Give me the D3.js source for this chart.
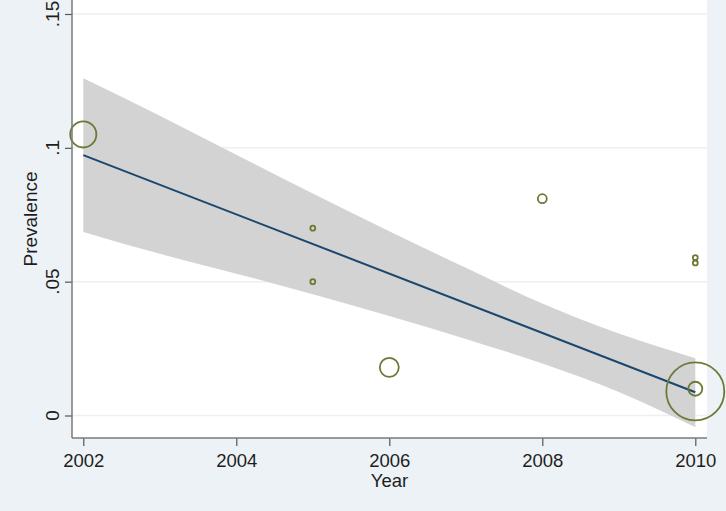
<!DOCTYPE html>
<html>
<head>
<meta charset="utf-8">
<script src="https://cdn.jsdelivr.net/npm/d3@7"></script>
<style>
  html, body { margin: 0; padding: 0; background: #edf2f6; }
  svg { display: block; }
  text { font-family: Arial, "Liberation Sans", sans-serif; fill: #1e1e1e; }
</style>
</head>
<body>
<svg id="chart" width="726" height="511"></svg>
<script>
// ---- data ----
const studyYears  = [2002, 2005, 2005, 2006, 2008, 2010, 2010, 2010, 2010];
const prevalence  = [0.105, 0.070, 0.050, 0.018, 0.081, 0.059, 0.057, 0.010, 0.009];
const weights     = [170, 6, 6, 90, 20, 6, 6, 49, 840];

const fitYears    = [2002, 2010];
const fitValues   = [0.0973, 0.0087];

const bandYears   = [2002, 2003, 2004, 2005, 2006, 2007, 2008, 2009, 2010];
const bandUpper   = [0.126, 0.112, 0.0974, 0.0829, 0.0688, 0.0552, 0.0418, 0.0306, 0.0214];
const bandLower   = [0.0686, 0.0604, 0.0530, 0.0453, 0.0372, 0.0286, 0.0194, 0.0088, -0.0044];

const xTicks      = [2002, 2004, 2006, 2008, 2010];
const yTicks      = [0, 0.05, 0.1, 0.15];
const yTickLabels = ["0", ".05", ".1", ".15"];

// ---- layout ----
const svg = d3.select("#chart");
const plotL = 72, plotR = 707, plotT = -5, plotB = 438;
const fontSize = "18.5px";

const x = d3.scaleLinear().domain([2002, 2010]).range([83.3, 695.3]);
const y = d3.scaleLinear().domain([0, 0.15]).range([415.5, 14]);
const r = d3.scaleSqrt().domain([0, 840]).range([0, 29]);

// plot region
svg.append("rect").attr("x", plotL).attr("y", plotT)
  .attr("width", plotR - plotL).attr("height", plotB - plotT).attr("fill", "#ffffff");

// gridlines
svg.append("g").selectAll("line").data(yTicks).join("line")
  .attr("x1", plotL).attr("x2", plotR)
  .attr("y1", d => y(d)).attr("y2", d => y(d))
  .attr("stroke", "#eaf1f3").attr("stroke-width", 1.5);

// CI band
const bandData = bandYears.map((t, i) => ({t, lo: bandLower[i], hi: bandUpper[i]}));
svg.append("path").datum(bandData)
  .attr("d", d3.area().x(d => x(d.t)).y0(d => y(d.lo)).y1(d => y(d.hi)).curve(d3.curveMonotoneX))
  .attr("fill", "#d3d3d3");

// fitted line
const fitData = fitYears.map((t, i) => ({t, v: fitValues[i]}));
svg.append("path").datum(fitData)
  .attr("d", d3.line().x(d => x(d.t)).y(d => y(d.v)))
  .attr("fill", "none").attr("stroke", "#1a476f").attr("stroke-width", 2);

// points
const pts = studyYears.map((t, i) => ({t, v: prevalence[i], w: weights[i]}));
svg.append("g").selectAll("circle").data(pts).join("circle")
  .attr("cx", d => x(d.t)).attr("cy", d => y(d.v)).attr("r", d => r(d.w))
  .attr("fill", "none").attr("stroke", "#6b7a35").attr("stroke-width", 1.8);

// axes
const yAxis = svg.append("g").attr("transform", `translate(${plotL},0)`)
  .call(d3.axisLeft(y).tickValues(yTicks).tickSize(7).tickFormat((d, i) => yTickLabels[i]));
yAxis.select(".domain").remove();
yAxis.selectAll(".tick line").attr("stroke", "#555").attr("stroke-width", 1.2);
yAxis.selectAll(".tick text").remove();
svg.append("g").selectAll("text").data(yTicks).join("text")
  .attr("transform", d => `translate(58.5,${y(d)}) rotate(-90)`)
  .attr("text-anchor", "middle").style("font-size", "19px")
  .text((d, i) => yTickLabels[i]);

const xAxis = svg.append("g").attr("transform", `translate(0,${plotB})`)
  .call(d3.axisBottom(x).tickValues(xTicks).tickSize(8).tickFormat(d3.format("d")));
xAxis.select(".domain").remove();
xAxis.selectAll(".tick line").attr("stroke", "#555").attr("stroke-width", 1.2);
xAxis.selectAll(".tick text").attr("y", 0).attr("dy", null)
  .attr("transform", "translate(0,28.5)")
  .style("font-size", fontSize).style("font-family", "Arial, 'Liberation Sans', sans-serif").attr("fill", "#1e1e1e");

// axis lines
svg.append("line").attr("x1", plotL).attr("x2", plotL).attr("y1", plotT).attr("y2", plotB)
  .attr("stroke", "#7a7a7a").attr("stroke-width", 1.5);
svg.append("line").attr("x1", plotL).attr("x2", plotR).attr("y1", plotB).attr("y2", plotB)
  .attr("stroke", "#7a7a7a").attr("stroke-width", 1.5);

// axis titles
svg.append("text").attr("transform", "translate(37,219) rotate(-90)")
  .attr("text-anchor", "middle").style("font-size", "19px").text("Prevalence");
svg.append("text").attr("x", 389.5).attr("y", 487)
  .attr("text-anchor", "middle").style("font-size", fontSize).text("Year");
</script>
</body>
</html>
